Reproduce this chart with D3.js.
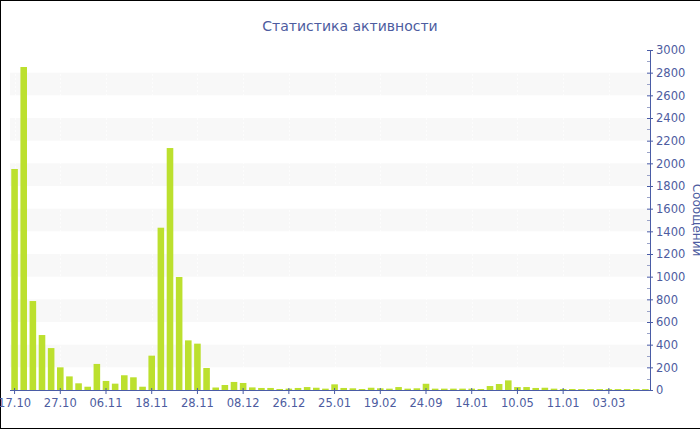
<!DOCTYPE html>
<html>
<head>
<meta charset="utf-8">
<script src="https://cdn.jsdelivr.net/npm/d3@7"></script>
<style>
  html, body { margin: 0; padding: 0; background: #fff; overflow: hidden; }
  svg { display: block; }
</style>
</head>
<body>
<svg id="chart" width="700" height="430"></svg>
<script>
const title = "Статистика активности";
const yTitle = "Сообщений";
const tickLabels = ["17.10","27.10","06.11","18.11","28.11","08.12","26.12","25.01","19.02","24.09","14.01","10.05","11.01","03.03"];
const values = [
  1950, 2850, 785, 485, 370, 200, 120, 59, 29, 230,
  80, 56, 130, 112, 29, 303, 1432, 2135, 997, 438,
  409, 194, 22, 44, 71, 62, 23, 18, 18, 9,
  12, 18, 26, 20, 12, 50, 18, 15, 9, 20,
  15, 12, 26, 12, 15, 55, 12, 12, 12, 12,
  12, 9, 35, 53, 85, 26, 26, 18, 20, 12,
  9, 9, 8, 8, 8, 8, 8, 8, 8, 8
];
const categories = values.map((v, i) => i);
const yTicks = d3.range(0, 3001, 200);

(function () {
const axisColor = "#4a5ca6";
const textColor = "#4d5ca0";
const barColor = "#bce02e";
const font = "DejaVu Sans, Verdana, sans-serif";

const svg = d3.select("#chart");
const pLeft = 10, pRight = 650, pTop = 50, pBottom = 390;

const x = d3.scaleBand().domain(categories).range([pLeft, pRight]).paddingInner(0.28).paddingOuter(0.14);
const y = d3.scaleLinear().domain([0, 3000]).range([pBottom, pTop]);

// border
svg.append("rect").attr("x", 0.5).attr("y", 0.5).attr("width", 740).attr("height", 428)
  .attr("fill", "none").attr("stroke", "#000").attr("stroke-width", 1);

// bands
const bandStarts = yTicks.filter(t => t < 3000 && (t / 200) % 2 === 1);
svg.append("g").selectAll("rect").data(bandStarts).join("rect")
  .attr("x", pLeft).attr("width", pRight - pLeft)
  .attr("y", d => y(d + 200)).attr("height", d => y(d) - y(d + 200))
  .attr("fill", "#f8f8f8");

// vertical faint grid at ticks
const tickIdx = tickLabels.map((t, i) => i * 5);
svg.append("g").selectAll("line").data(tickIdx).join("line")
  .attr("x1", d => Math.round(x(d) + x.bandwidth() / 2) + 0.5)
  .attr("x2", d => Math.round(x(d) + x.bandwidth() / 2) + 0.5)
  .attr("y1", pTop).attr("y2", pBottom)
  .attr("stroke", "#ffffff").attr("stroke-width", 1).attr("stroke-dasharray", "2,2").attr("opacity", 0.8);

// bars
svg.append("g").selectAll("rect").data(values).join("rect")
  .attr("x", (d, i) => x(categories[i]))
  .attr("width", x.bandwidth())
  .attr("y", d => y(d))
  .attr("height", d => y(0) - y(d))
  .attr("fill", barColor);

// title
svg.append("text").attr("x", 350).attr("y", 31).attr("text-anchor", "middle")
  .attr("font-family", font).attr("font-size", 14).attr("fill", textColor).text(title);

// x axis
const xAxis = d3.axisBottom(x)
  .tickValues(tickIdx)
  .tickFormat(d => tickLabels[d / 5])
  .tickSize(4).tickSizeOuter(0);
const gx = svg.append("g").attr("transform", `translate(0,${pBottom})`).call(xAxis);
gx.select(".domain").attr("stroke", axisColor).attr("d", `M${pLeft},0.5H${pRight}`);
gx.selectAll(".tick line").attr("stroke", axisColor).attr("y1", -2).attr("y2", 4);
gx.selectAll(".tick text").attr("fill", textColor).attr("font-family", font).attr("font-size", 11.5).attr("dy", "0.9em");

// y axis (right)
const yAxis = d3.axisRight(y).tickValues(yTicks).tickFormat(d3.format("d")).tickSize(3).tickSizeOuter(0).tickPadding(3);
const gy = svg.append("g").attr("transform", `translate(${pRight},0)`).call(yAxis);
gy.select(".domain").attr("stroke", axisColor).attr("d", `M0.5,${pTop}V${pBottom}`);
gy.selectAll(".tick line").attr("stroke", axisColor).attr("x1", -3).attr("x2", 3);
gy.selectAll(".tick text").attr("fill", textColor).attr("font-family", font).attr("font-size", 11.5);

// minor ticks
const minor = d3.range(100, 3000, 200);
svg.append("g").selectAll("line").data(minor).join("line")
  .attr("x1", pRight - 3).attr("x2", pRight)
  .attr("y1", d => Math.round(y(d)) + 0.5).attr("y2", d => Math.round(y(d)) + 0.5)
  .attr("stroke", "#9aa3c8");

// y title
svg.append("text").attr("transform", `translate(693,${(pTop + pBottom) / 2}) rotate(90)`)
  .attr("text-anchor", "middle").attr("font-family", font).attr("font-size", 12)
  .attr("fill", textColor).text(yTitle);
})();
</script>
</body>
</html>
